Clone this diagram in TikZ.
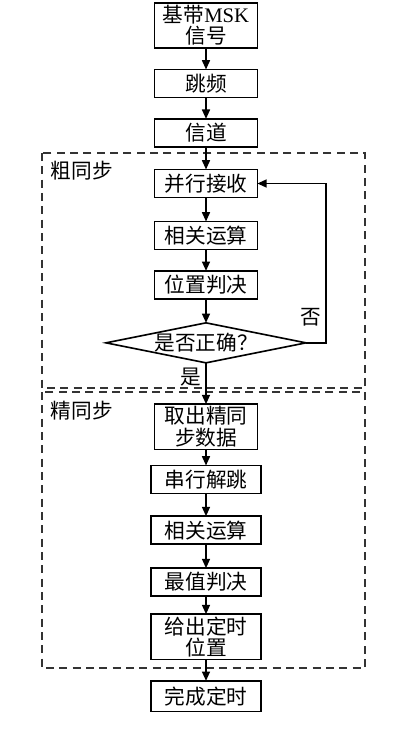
\documentclass[tikz,border=0pt]{standalone}
\usepackage{fontspec}
\setmainfont{Liberation Serif}
\newfontfamily\cjk{Noto Sans CJK SC}
\usetikzlibrary{arrows.meta, positioning, shapes.geometric}

\begin{document}
\begin{tikzpicture}[
    x=0.75pt, y=-0.75pt,
    font=\cjk\fontsize{15.5}{16}\selectfont,
    box/.style={rectangle, draw=black, line width=1.2pt, minimum width=#1,
                minimum height=21pt, text centered, inner sep=1pt,
                outer sep=0pt, align=center},
    box/.default=77pt,
    dec/.style={diamond, draw=black, line width=1.2pt, aspect=5,
                minimum width=150pt, minimum height=30pt, inner sep=0pt,
                outer sep=0pt},
    group/.style={draw=black!80, dash pattern=on 6pt off 4pt, line width=0.9pt},
    arr/.style={-{Triangle[length=7pt, width=6pt]}, line width=1.2pt},
    node distance=16pt
  ]
  \useasboundingbox (0,0) rectangle (400,734);

  \draw[group] (42,153) rectangle (365,388);
  \draw[group] (42,392) rectangle (365,668);
  \node[anchor=west] (lblA) at (46,171) {粗同步};
  \node[anchor=west] (lblB) at (46,411) {精同步};

  \node[box, minimum height=34pt] at (206,25.5) (src) {基带{\rmfamily MSK}\\信号};
  \node[box, below=of src]          (hop)  {跳频};
  \node[box, below=of hop]          (chan) {信道};
  \node[box, below=17pt of chan]    (rx)   {并行接收};
  \node[box, below=18pt of rx]      (corA) {相关运算};
  \node[box, below=of corA]         (posA) {位置判决};
  \node[dec, below=18pt of posA]    (chk)  {是否正确？};

  \node[box, minimum height=34pt, below=31pt of chk] (pick) {取出精同\\步数据};
  \node[box=82.5pt, below=12pt of pick]   (dehop) {串行解跳};
  \node[box=82.5pt, below=17pt of dehop]  (corB)  {相关运算};
  \node[box=82.5pt, below=18pt of corB]   (maxd)  {最值判决};
  \node[box=82.5pt, minimum height=34pt, below=13.5pt of maxd] (tpos) {给出定时\\位置};
  \node[box=82.5pt, minimum height=23pt, below=of tpos] (done) {完成定时};

  \foreach \a/\b in {src/hop, hop/chan, chan/rx, rx/corA, corA/posA, posA/chk,
                     pick/dehop, dehop/corB, corB/maxd, maxd/tpos, tpos/done}
    \draw[arr] (\a) -- (\b);

  \draw[arr] (chk) -- (pick) node[pos=0.35, left] {是};
  \draw[arr] (chk.east) -- ++(15pt,0) |- (rx.east)
        node[pos=0.08, left] {否};

\end{tikzpicture}
\end{document}
